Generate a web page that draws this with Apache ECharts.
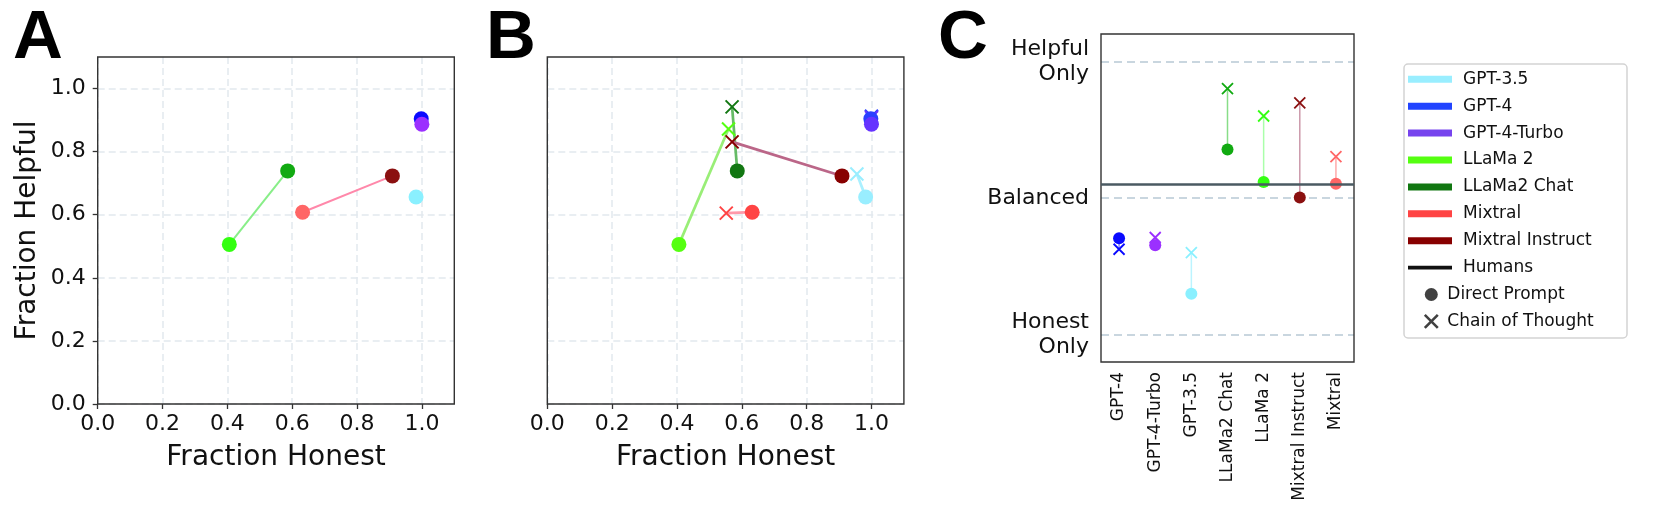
<!DOCTYPE html>
<html>
<head>
<meta charset="utf-8">
<script src="https://cdn.jsdelivr.net/npm/echarts@6/dist/echarts.min.js"></script>
<style>
  html, body { margin: 0; padding: 0; background: #fff; }
  #chart { width: 1661px; height: 517px; }
</style>
</head>
<body>
<div id="chart"></div>
<script>
// models in the order used by panels A and B (and the legend)
var models = ['GPT-3.5', 'GPT-4', 'GPT-4-Turbo', 'LLaMa 2', 'LLaMa2 Chat', 'Mixtral', 'Mixtral Instruct'];

// direct prompt results (panels A and B)
var honestDirect  = [0.982, 0.998, 1.000, 0.406, 0.586, 0.632, 0.909];
var helpfulDirect = [0.656, 0.904, 0.887, 0.506, 0.739, 0.608, 0.723];

// chain of thought results (panel B)
var honestCot  = [0.955, 1.000, 1.000, 0.559, 0.570, 0.552, 0.570];
var helpfulCot = [0.729, 0.912, 0.908, 0.872, 0.942, 0.605, 0.831];

// base model -> tuned model pairs joined in panel A
var pairsA = [['LLaMa 2', 'LLaMa2 Chat'], ['Mixtral', 'Mixtral Instruct']];

// panel C: balance score, -1 = honest only, 1 = helpful only
var balanceModels = ['GPT-4', 'GPT-4-Turbo', 'GPT-3.5', 'LLaMa2 Chat', 'LLaMa 2', 'Mixtral Instruct', 'Mixtral'];
var balanceDirect = [-0.294, -0.345, -0.700, 0.355, 0.117, 0.003, 0.105];
var balanceCot    = [-0.375, -0.289, -0.400, 0.800, 0.600, 0.696, 0.302];
var humansBalance = 0.105;

var fracTicks = [0, 0.2, 0.4, 0.6, 0.8, 1.0];
var balanceTicks = [-1, 0, 1];
var balanceLabels = { '-1': 'Honest\nOnly', '0': 'Balanced', '1': 'Helpful\nOnly' };

// colours
var colA = {
  'GPT-3.5': '#8af0ff', 'GPT-4': '#0a0aff', 'GPT-4-Turbo': '#9b30ff', 'LLaMa 2': '#33ff11',
  'LLaMa2 Chat': '#11aa11', 'Mixtral': '#ff6666', 'Mixtral Instruct': '#8b1010'
};
var pairLineA = { 'LLaMa 2': '#88ee88', 'Mixtral': '#ff88aa' };
var colB = {
  'GPT-3.5': '#99eeff', 'GPT-4': '#2a3fff', 'GPT-4-Turbo': '#6633ff', 'LLaMa 2': '#55ff11',
  'LLaMa2 Chat': '#127712', 'Mixtral': '#ff4444', 'Mixtral Instruct': '#880000'
};
var lineB = {
  'GPT-3.5': '#aaf0ff', 'GPT-4': '#8899ff', 'GPT-4-Turbo': '#9977ff', 'LLaMa 2': '#99ee77',
  'LLaMa2 Chat': '#66bb66', 'Mixtral': '#ff99aa', 'Mixtral Instruct': '#bb6688'
};
var stemC = {
  'GPT-3.5': '#bbf4ff', 'GPT-4': '#8888ff', 'GPT-4-Turbo': '#cc99ff', 'LLaMa 2': '#aaffaa',
  'LLaMa2 Chat': '#88dd88', 'Mixtral': '#ffaaaa', 'Mixtral Instruct': '#cc99aa'
};
var legendCol = {
  'GPT-3.5': '#99eeff', 'GPT-4': '#2244ff', 'GPT-4-Turbo': '#7744ee', 'LLaMa 2': '#55ff11',
  'LLaMa2 Chat': '#117711', 'Mixtral': '#ff4444', 'Mixtral Instruct': '#880000'
};

var FONT = 'DejaVu Sans';
var CROSS = 'path://M0,0L10,10M10,0L0,10';
var frame = '#333';

function fracAxis(gridIndex, name, showLabels) {
  return {
    type: 'value', gridIndex: gridIndex, min: 0, max: 1.1, interval: 0.2,
    name: name, nameLocation: 'middle',
    nameTextStyle: { fontFamily: FONT, fontSize: 28, color: '#111' },
    axisLine: { show: false },
    axisTick: { show: showLabels !== 'noTick', length: 5, lineStyle: { color: frame, width: 1.3 }, customValues: fracTicks },
    axisLabel: {
      show: !!showLabels && showLabels !== 'noTick', fontFamily: FONT, fontSize: 22, color: '#111',
      customValues: fracTicks,
      formatter: function (v) { return v > 1.05 ? '' : v.toFixed(1); }
    },
    splitLine: { show: true, lineStyle: { color: '#e2e9ee', width: 1.5, type: [7, 4] } }
  };
}

var xA = fracAxis(0, 'Fraction Honest', true); xA.nameGap = 40; xA.axisLabel.margin = 9;
var yA = fracAxis(0, 'Fraction Helpful', true); yA.nameGap = 56; yA.axisLabel.margin = 12;
var xB = fracAxis(1, 'Fraction Honest', true); xB.nameGap = 40; xB.axisLabel.margin = 9;
var yB = fracAxis(1, '', 'noTick');

var series = [];

// panel A: lines joining base and tuned models
pairsA.forEach(function (p) {
  var i = models.indexOf(p[0]), j = models.indexOf(p[1]);
  series.push({
    name: p[0], type: 'line', xAxisIndex: 0, yAxisIndex: 0, symbol: 'none', z: 2,
    lineStyle: { color: pairLineA[p[0]], width: 2 },
    data: [[honestDirect[i], helpfulDirect[i]], [honestDirect[j], helpfulDirect[j]]]
  });
});
series.push({
  name: 'Direct Prompt', type: 'scatter', xAxisIndex: 0, yAxisIndex: 0, symbol: 'circle', symbolSize: 15, z: 4,
  data: models.map(function (m, i) {
    return { value: [honestDirect[i], helpfulDirect[i]], itemStyle: { color: colA[m], opacity: 1 } };
  })
});

// panel B: direct prompt -> chain of thought
models.forEach(function (m, i) {
  series.push({
    name: m, type: 'line', xAxisIndex: 1, yAxisIndex: 1, symbol: 'none', z: 2,
    lineStyle: { color: lineB[m], width: 2.7 },
    data: [[honestDirect[i], helpfulDirect[i]], [honestCot[i], helpfulCot[i]]]
  });
});
series.push({
  name: 'Chain of Thought', type: 'scatter', xAxisIndex: 1, yAxisIndex: 1, symbol: CROSS, symbolSize: 13, z: 3,
  data: models.map(function (m, i) {
    return { value: [honestCot[i], helpfulCot[i]], itemStyle: { color: colB[m], borderColor: colB[m], borderWidth: 2, opacity: 1 } };
  })
});
series.push({
  name: 'Direct Prompt', type: 'scatter', xAxisIndex: 1, yAxisIndex: 1, symbol: 'circle', symbolSize: 15, z: 4,
  data: models.map(function (m, i) {
    return { value: [honestDirect[i], helpfulDirect[i]], itemStyle: { color: colB[m], opacity: 1 } };
  })
});

// panel C: stems between the two prompting styles
balanceModels.forEach(function (m, i) {
  series.push({
    name: m, type: 'line', xAxisIndex: 2, yAxisIndex: 2, symbol: 'none', z: 2,
    lineStyle: { color: stemC[m], width: 1.5 },
    data: [[m, balanceDirect[i]], [m, balanceCot[i]]]
  });
});
series.push({
  name: 'Humans', type: 'line', xAxisIndex: 2, yAxisIndex: 2, data: [], z: 2,
  lineStyle: { color: '#4a5a62', width: 2.5 },
  markLine: {
    silent: true, symbol: 'none', label: { show: false },
    lineStyle: { color: '#4a5a62', width: 2.5, type: 'solid' },
    data: [{ yAxis: humansBalance }]
  }
});
series.push({
  name: 'Chain of Thought', type: 'scatter', xAxisIndex: 2, yAxisIndex: 2, symbol: CROSS, symbolSize: 11, z: 3,
  data: balanceModels.map(function (m, i) {
    return { value: [m, balanceCot[i]], itemStyle: { color: colA[m], borderColor: colA[m], borderWidth: 1.8, opacity: 1 } };
  })
});
series.push({
  name: 'Direct Prompt', type: 'scatter', xAxisIndex: 2, yAxisIndex: 2, symbol: 'circle', symbolSize: 12, z: 4,
  data: balanceModels.map(function (m, i) {
    return { value: [m, balanceDirect[i]], itemStyle: { color: colA[m], opacity: 1 } };
  })
});

var legendText = { fontFamily: FONT, fontSize: 17, color: '#111', lineHeight: 20 };
var legendModels = models.map(function (m) {
  return { name: m, icon: 'rect', itemStyle: { color: legendCol[m], borderWidth: 0 } };
});
legendModels.push({ name: 'Humans', icon: 'path://M0,0L44,0L44,3.6L0,3.6Z', itemStyle: { color: '#111', borderWidth: 0 } });

var gridBase = { show: true, borderColor: frame, borderWidth: 1.4, backgroundColor: 'transparent', z: 1 };

var option = {
  animation: false,
  backgroundColor: '#fff',
  grid: [
    Object.assign({ left: 97.7, top: 57, width: 356.6, height: 347 }, gridBase),
    Object.assign({ left: 547.3, top: 57, width: 356.6, height: 347 }, gridBase),
    Object.assign({ left: 1101, top: 34, width: 253, height: 328 }, gridBase)
  ],
  xAxis: [
    xA, xB,
    {
      type: 'category', gridIndex: 2, data: balanceModels, boundaryGap: true,
      axisLine: { show: false },
      axisTick: { alignWithLabel: true, length: 5, lineStyle: { color: frame, width: 1.3 } },
      axisLabel: { rotate: 90, interval: 0, margin: 10, fontFamily: FONT, fontSize: 17, color: '#111' },
      splitLine: { show: false }
    }
  ],
  yAxis: [
    yA, yB,
    {
      type: 'value', gridIndex: 2, min: -1.2, max: 1.2,
      axisLine: { show: false },
      axisTick: { length: 5, lineStyle: { color: frame, width: 1.3 }, customValues: balanceTicks },
      axisLabel: {
        fontFamily: FONT, fontSize: 22, color: '#111', lineHeight: 25, margin: 12, align: 'right',
        customValues: balanceTicks,
        formatter: function (v) { var k = String(Math.round(v)); return Math.abs(v - Math.round(v)) < 1e-6 && balanceLabels[k] ? balanceLabels[k] : ''; }
      },
      splitLine: { show: true, lineStyle: { color: '#c9d6df', width: 2, type: [8, 5] } }
    }
  ],
  legend: [
    {
      orient: 'vertical', left: 1408, top: 69.3, padding: 0, itemGap: 6.9,
      itemWidth: 44, itemHeight: 7, symbolKeepAspect: true,
      textStyle: Object.assign({ padding: [0, 0, 0, 6] }, legendText),
      data: legendModels
    },
    {
      orient: 'vertical', left: 1423.5, top: 284.5, padding: 0, itemGap: 6.9,
      itemWidth: 13, itemHeight: 13, symbolKeepAspect: true,
      textStyle: Object.assign({ padding: [0, 0, 0, 4.5] }, legendText),
      data: [
        { name: 'Direct Prompt', icon: 'circle', itemStyle: { color: '#111', borderWidth: 0 } },
        { name: 'Chain of Thought', icon: CROSS, itemStyle: { color: '#111', borderColor: '#111', borderWidth: 2.6 } }
      ]
    }
  ],
  graphic: [
    { type: 'rect', shape: { x: 1404, y: 64, width: 223, height: 274, r: 4 }, style: { fill: '#fff', stroke: '#d3d3d3', lineWidth: 1.5 }, z: 0 },
    { type: 'text', left: 13, top: 4, style: { text: 'A', font: 'bold 69px "Liberation Sans"', fill: '#000' } },
    { type: 'text', left: 486, top: 4, style: { text: 'B', font: 'bold 69px "Liberation Sans"', fill: '#000' } },
    { type: 'text', left: 938, top: 4, style: { text: 'C', font: 'bold 69px "Liberation Sans"', fill: '#000' } }
  ],
  series: series
};

var myChart = echarts.init(document.getElementById('chart'));
myChart.setOption(option);
</script>
</body>
</html>
